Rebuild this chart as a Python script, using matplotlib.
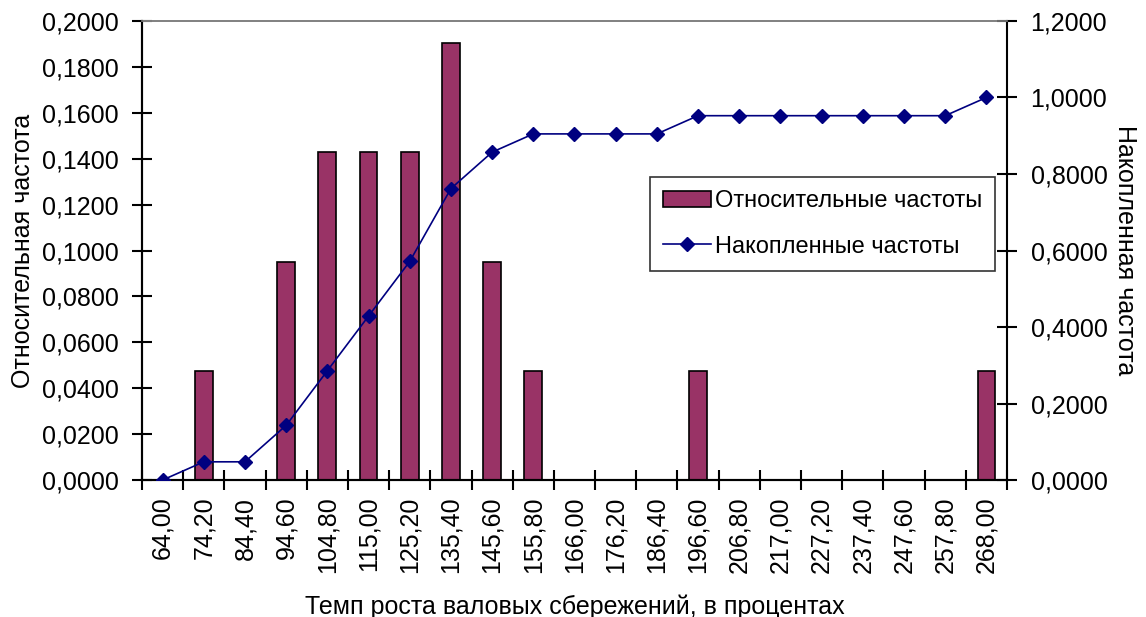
import numpy as np
import matplotlib.pyplot as plt
from matplotlib.ticker import FuncFormatter

plt.rcParams['font.family'] = ['Liberation Sans', 'DejaVu Sans']

# интервалы темпа роста и частоты
categories = ['64,00', '74,20', '84,40', '94,60', '104,80', '115,00', '125,20',
              '135,40', '145,60', '155,80', '166,00', '176,20', '186,40', '196,60',
              '206,80', '217,00', '227,20', '237,40', '247,60', '257,80', '268,00']
relFreq = [0.0, 0.0476, 0.0, 0.0952, 0.1429, 0.1429, 0.1429,
           0.1905, 0.0952, 0.0476, 0.0, 0.0, 0.0, 0.0476,
           0.0, 0.0, 0.0, 0.0, 0.0, 0.0, 0.0476]
cumFreq = [0.0, 0.0476, 0.0476, 0.1429, 0.2857, 0.4286, 0.5714,
           0.7619, 0.8571, 0.9048, 0.9048, 0.9048, 0.9048, 0.9524,
           0.9524, 0.9524, 0.9524, 0.9524, 0.9524, 0.9524, 1.0]

fs = 18
comma = FuncFormatter(lambda v, p: ('%.4f' % v).replace('.', ','))

fig = plt.figure(figsize=(11.46, 6.17), dpi=100)
ax = fig.add_axes([0.1239, 0.222, 0.7548, 0.744])
x = np.arange(len(categories))

bars = ax.bar(x, relFreq, width=0.43, color='#993366', edgecolor='black',
              linewidth=1.2, label='Относительные частоты', zorder=2)
ax.set_xlim(-0.5, len(categories) - 0.5)
ax.set_ylim(0, 0.2)
ax.set_yticks(np.arange(0, 0.2001, 0.02))
ax.yaxis.set_major_formatter(comma)
ax.set_xticks(x)
ax.set_xticklabels(categories, rotation=90)
ax.set_xticks(np.arange(-0.5, len(categories), 1), minor=True)
ax.tick_params(axis='x', which='major', length=0, pad=12, labelsize=fs)
ax.tick_params(axis='x', which='minor', direction='inout', length=14, width=1.5)
ax.tick_params(axis='y', direction='inout', length=14, width=1.5, labelsize=fs, pad=10)

ax2 = ax.twinx()
line = ax2.plot(x, cumFreq, color='#000080', linewidth=1.2, marker='D', markersize=7,
                label='Накопленные частоты', zorder=3)
ax2.set_ylim(0, 1.2)
ax2.set_yticks(np.arange(0, 1.2001, 0.2))
ax2.yaxis.set_major_formatter(comma)
ax2.tick_params(axis='y', direction='inout', length=14, width=1.5, labelsize=fs, pad=10)

for a in (ax, ax2):
    a.spines['left'].set_linewidth(1.5)
    a.spines['right'].set_linewidth(1.5)
    a.spines['bottom'].set_linewidth(1.5)
    a.spines['top'].set_color('#808080')
    a.spines['top'].set_linewidth(1.2)
ax.spines['right'].set_visible(False)

ax.set_ylabel('Относительная частота', fontsize=fs, labelpad=5)
ax2.set_ylabel('Накопленная частота', fontsize=fs, rotation=270, labelpad=21)
ax.set_xlabel('Темп роста валовых сбережений, в процентах', fontsize=fs, labelpad=15)

leg = ax2.legend([bars, line[0]], ['Относительные частоты', 'Накопленные частоты'],
                 loc='upper left', bbox_to_anchor=(0.587, 0.66), borderaxespad=0,
                 fontsize=17, frameon=True, fancybox=False, edgecolor='black',
                 borderpad=0.55, handlelength=2.05, handletextpad=0.15,
                 labelspacing=1.0)
leg.get_frame().set_linewidth(1.2)

fig.savefig('out.png', dpi=100)
